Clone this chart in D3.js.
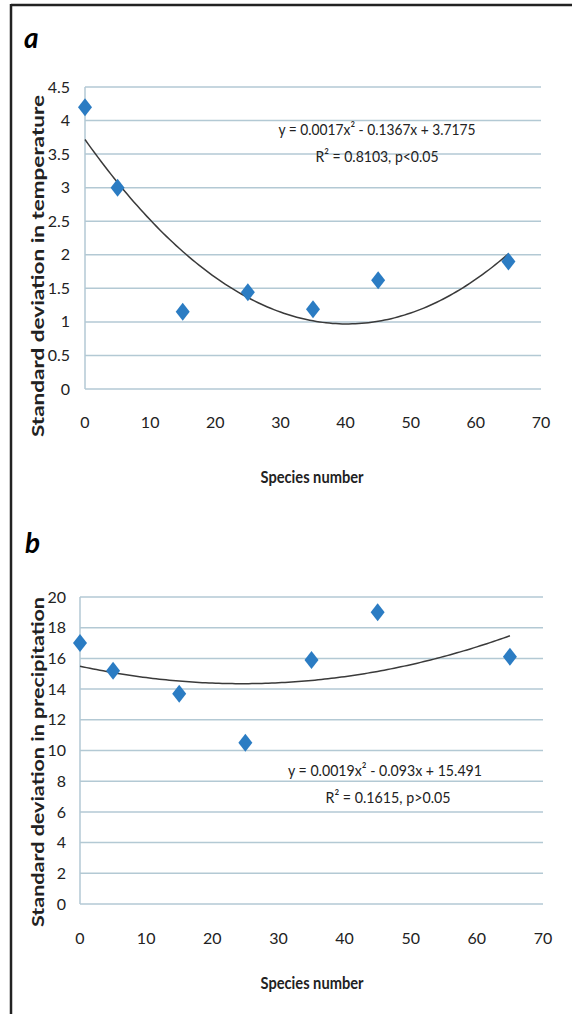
<!DOCTYPE html>
<html>
<head>
<meta charset="UTF-8">
<title>Species number vs SD</title>
<script src="https://cdn.jsdelivr.net/npm/d3@7"></script>
<style>
  body { margin: 0; background: #fff; }
  svg text { font-family: Lato, "Open Sans", sans-serif; fill: #222; }
  .grid line { stroke: #b3c9d4; stroke-width: 1.5; }
  .tick-lbl { font-size: 16px; }
  .title { font-weight: bold; }
</style>
</head>
<body>
<svg width="572" height="1014"></svg>
<script>
// species number (x) shared by both panels
var species = [0, 5, 15, 25, 35, 45, 65];
// panel a: SD in temperature
var sdTemp = [4.2, 3.0, 1.15, 1.44, 1.19, 1.62, 1.9];
var tempTicks = [0, 0.5, 1, 1.5, 2, 2.5, 3, 3.5, 4, 4.5];
var tempFit = [0.0017, -0.1367, 3.7175];   // a, b, c of quadratic trend
// panel b: SD in precipitation
var sdPrec = [17.0, 15.2, 13.7, 10.5, 15.9, 19.0, 16.1];
var precTicks = [0, 2, 4, 6, 8, 10, 12, 14, 16, 18, 20];
var precFit = [0.0019, -0.093, 15.491];
var xTicks = [0, 10, 20, 30, 40, 50, 60, 70];

var svg = d3.select("svg");

// frame
svg.append("line").attr("x1", 11).attr("x2", 572).attr("y1", 5).attr("y2", 5)
  .attr("stroke", "#222").attr("stroke-width", 2.5);
svg.append("line").attr("x1", 11).attr("x2", 11).attr("y1", 4).attr("y2", 1014)
  .attr("stroke", "#222").attr("stroke-width", 2.5);

function panel(opt) {
  var g = svg.append("g");
  var x = d3.scaleLinear().domain([0, 70]).range([opt.x0, opt.x1]);
  var y = d3.scaleLinear().domain([0, opt.ymax]).range([opt.y0, opt.y1]);

  g.append("text").attr("x", opt.lx).attr("y", opt.ly)
    .style("font-size", "28px").style("font-weight", "bold").style("font-style", "italic")
    .style("fill", "#000").text(opt.letter);

  var grid = g.append("g").attr("class", "grid");
  grid.selectAll("line.h").data(opt.yTicks).enter().append("line")
    .attr("x1", x(0)).attr("x2", x(70))
    .attr("y1", function(d) { return y(d); }).attr("y2", function(d) { return y(d); });
  grid.append("line").attr("x1", x(0)).attr("x2", x(0)).attr("y1", y(0)).attr("y2", y(opt.ymax));

  g.selectAll("text.yl").data(opt.yTicks).enter().append("text")
    .attr("class", "tick-lbl").attr("text-anchor", "end")
    .attr("x", opt.ylx).attr("y", function(d) { return y(d); }).attr("dy", "0.35em")
    .text(function(d) { return d; });

  g.selectAll("text.xl").data(xTicks).enter().append("text")
    .attr("class", "tick-lbl").attr("text-anchor", "middle")
    .attr("x", function(d) { return x(d); }).attr("y", opt.xly)
    .text(function(d) { return d; });

  g.append("text").attr("class", "title").attr("text-anchor", "middle")
    .attr("x", 312).attr("y", opt.xty).style("font-size", "17px")
    .attr("textLength", 103).attr("lengthAdjust", "spacingAndGlyphs")
    .text("Species number");

  g.append("text").attr("class", "title").attr("text-anchor", "middle")
    .attr("transform", "translate(44," + opt.ytc + ") rotate(-90)")
    .style("font-size", "17px")
    .attr("textLength", opt.ytLen).attr("lengthAdjust", "spacingAndGlyphs")
    .text(opt.yTitle);

  // trend curve
  var f = opt.fit;
  var curve = d3.range(0, 65.01, 0.5).map(function(v) { return [v, f[0] * v * v + f[1] * v + f[2]]; });
  g.append("path").datum(curve)
    .attr("fill", "none").attr("stroke", "#3a3a3a").attr("stroke-width", 1.5)
    .attr("d", d3.line().x(function(d) { return x(d[0]); }).y(function(d) { return y(d[1]); }));

  // diamond markers
  g.selectAll("path.pt").data(species).enter().append("path")
    .attr("d", "M0,-9L7,0L0,9L-7,0Z")
    .attr("fill", "#2b7cc3")
    .attr("transform", function(d, i) { return "translate(" + x(d) + "," + y(opt.vals[i]) + ")"; });

  // equation + R²
  g.append("text").attr("text-anchor", "middle")
    .attr("x", opt.ex).attr("y", opt.ey).style("font-size", "16px")
    .attr("textLength", opt.eqLen[0]).attr("lengthAdjust", "spacingAndGlyphs")
    .text(opt.eq);
  g.append("text").attr("text-anchor", "middle")
    .attr("x", opt.ex + opt.rdx).attr("y", opt.ey + 27).style("font-size", "16px")
    .attr("textLength", opt.eqLen[1]).attr("lengthAdjust", "spacingAndGlyphs")
    .text(opt.r2);
}

panel({
  letter: "a", lx: 24, ly: 48,
  x0: 85, x1: 541, y0: 389, y1: 87, ymax: 4.5,
  yTicks: tempTicks, vals: sdTemp, fit: tempFit,
  ylx: 70, xly: 428, xty: 483,
  yTitle: "Standard deviation in temperature", ytc: 266, ytLen: 342,
  eq: "y = 0.0017x² - 0.1367x + 3.7175", r2: "R² = 0.8103, p<0.05",
  eqLen: [197, 123],
  ex: 377, ey: 135, rdx: 0
});

panel({
  letter: "b", lx: 25, ly: 553,
  x0: 80, x1: 543, y0: 904, y1: 597, ymax: 20,
  yTicks: precTicks, vals: sdPrec, fit: precFit,
  ylx: 66, xly: 944, xty: 989,
  yTitle: "Standard deviation in precipitation", ytc: 762, ytLen: 330,
  eq: "y = 0.0019x² - 0.093x + 15.491", r2: "R² = 0.1615, p>0.05",
  eqLen: [194, 125],
  ex: 385, ey: 776, rdx: 3
});
</script>
</body>
</html>
